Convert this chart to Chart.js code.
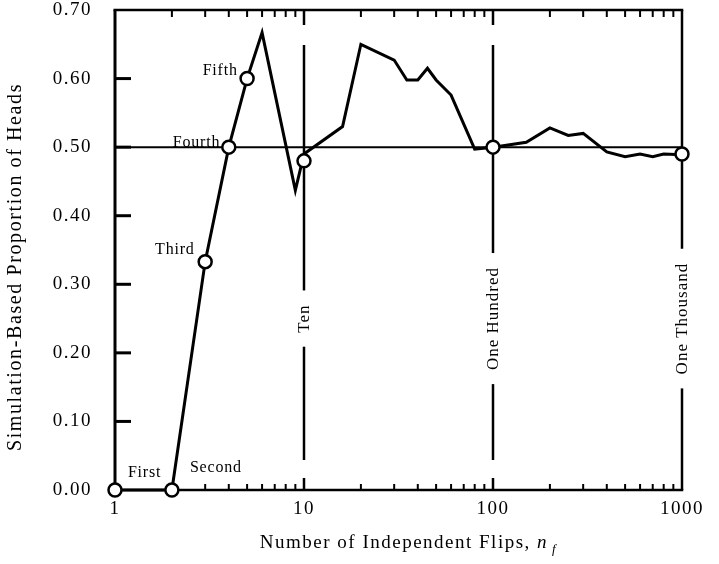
<!DOCTYPE html>
<html><head><meta charset="utf-8">
<script src="https://cdn.jsdelivr.net/npm/chart.js@4"></script>
<style>html,body{margin:0;padding:0;background:#fff}#wrap{width:719px;height:564px}</style>
</head><body><div id="wrap"><canvas id="c" width="719" height="564"></canvas></div>
<script>
// ---- data ----
const flips = [1,2,3,4,5,6,9,10,16,20,30,35,40,45,50,60,80,100,150,200,250,300,400,500,600,700,800,1000];
const proportion = [0,0,0.333,0.5,0.6,0.667,0.437,0.49,0.53,0.65,0.627,0.598,0.598,0.615,0.598,0.576,0.497,0.5,0.507,0.528,0.517,0.52,0.493,0.486,0.49,0.486,0.49,0.489];
const markedFlips = [1,2,3,4,5,10,100,1000];
const markedProportion = [0,0,0.333,0.5,0.6,0.48,0.5,0.49];
const fairValue = 0.5;
const xTickValues = [1,10,100,1000];
const xTickLabels = ['1','10','100','1000'];
const yTickValues = [0,0.1,0.2,0.3,0.4,0.5,0.6,0.7];
const yTickLabels = ['0.00','0.10','0.20','0.30','0.40','0.50','0.60','0.70'];
const flipNames = ['First','Second','Third','Fourth','Fifth'];
const flipNameX = [1.17,2.49,1.63,2.02,2.91];
const flipNameY = [0.025,0.032,0.35,0.507,0.612];
const decadeLines = [10,100,1000];
const decadeNames = ['Ten','One Hundred','One Thousand'];
const decadeNameY = 0.25;
const xTitle = 'Number of Independent Flips, ';
const xTitleVar = 'n';
const xTitleSub = 'f';
const yTitle = 'Simulation-Based Proportion of Heads';

const SERIF = '"Liberation Serif", "Times New Roman", serif';

function seg(ctx, x1, y1, x2, y2, w) {
  ctx.lineWidth = w;
  ctx.beginPath(); ctx.moveTo(x1, y1); ctx.lineTo(x2, y2); ctx.stroke();
}

const framePlugin = {
  id: 'frame',
  beforeDraw(chart) {
    chart.ctx.letterSpacing = '1.5px';
  },
  beforeDatasetsDraw(chart) {
    const {ctx, chartArea: a, scales: {x, y}} = chart;
    ctx.save();
    ctx.strokeStyle = '#000';
    ctx.fillStyle = '#000';
    ctx.lineCap = 'butt';
    // frame
    seg(ctx, a.left - 1.5, a.top, a.right + 1.25, a.top, 2.5);
    seg(ctx, a.left, a.top, a.left, a.bottom + 1.25, 3);
    seg(ctx, a.left, a.bottom, a.right + 1.25, a.bottom, 2.5);
    // log ticks top and bottom
    [1, 10, 100].forEach(d => {
      for (let k = 2; k <= 9; k++) {
        const px = x.getPixelForValue(d * k);
        seg(ctx, px, a.top, px, a.top + 7, 2);
        seg(ctx, px, a.bottom, px, a.bottom - 6, 2);
      }
    });
    [10, 100].forEach(v => {
      const px = x.getPixelForValue(v);
      seg(ctx, px, a.top, px, a.top + 15, 2.5);
      seg(ctx, px, a.bottom, px, a.bottom - 12, 2.5);
    });
    // y ticks
    yTickValues.forEach(v => {
      if (v <= y.min || v >= y.max) return;
      const py = y.getPixelForValue(v);
      seg(ctx, a.left, py, a.left + 16, py, 3);
    });
    // decade vertical lines with labels
    ctx.font = '17px ' + SERIF;
    ctx.letterSpacing = '1px';
    decadeLines.forEach((v, i) => {
      const px = x.getPixelForValue(v);
      const cy = y.getPixelForValue(decadeNameY);
      const w = ctx.measureText(decadeNames[i]).width;
      const g0 = cy - w / 2 - 14, g1 = cy + w / 2 + 14;
      const edge = v >= x.max;
      const t = edge ? a.top : a.top + 35;
      const b = edge ? a.bottom : a.bottom - 30;
      seg(ctx, px, t, px, g0, 2.5);
      seg(ctx, px, g1, px, b, 2.5);
      ctx.save();
      ctx.translate(px + 1, cy);
      ctx.rotate(-Math.PI / 2);
      ctx.textAlign = 'center';
      ctx.textBaseline = 'middle';
      ctx.fillText(decadeNames[i], 0, 0);
      ctx.restore();
    });
    ctx.restore();
  },
  afterDraw(chart) {
    const {ctx, chartArea: a, scales: {x, y}} = chart;
    ctx.save();
    ctx.fillStyle = '#000';
    // flip labels
    ctx.font = '16px ' + SERIF;
    ctx.letterSpacing = '0.8px';
    ctx.textAlign = 'left';
    ctx.textBaseline = 'middle';
    flipNames.forEach((n, i) => {
      ctx.fillText(n, x.getPixelForValue(flipNameX[i]), y.getPixelForValue(flipNameY[i]));
    });
    // x title
    ctx.letterSpacing = '1.5px';
    ctx.textBaseline = 'alphabetic';
    ctx.font = '19px ' + SERIF;
    const w1 = ctx.measureText(xTitle).width;
    ctx.font = 'italic 19px ' + SERIF;
    const w2 = ctx.measureText(xTitleVar).width;
    ctx.font = 'italic 13px ' + SERIF;
    const w3 = ctx.measureText(xTitleSub).width;
    const total = w1 + w2 + 4 + w3;
    let sx = (a.left + a.right) / 2 + 10 - total / 2;
    const by = 548;
    ctx.font = '19px ' + SERIF;
    ctx.fillText(xTitle, sx, by);
    ctx.font = 'italic 19px ' + SERIF;
    ctx.fillText(xTitleVar, sx + w1, by);
    ctx.font = 'italic 13px ' + SERIF;
    ctx.fillText(xTitleSub, sx + w1 + w2 + 4, by + 5);
    // y title
    ctx.font = '20px ' + SERIF;
    ctx.letterSpacing = '1.6px';
    ctx.textAlign = 'center';
    ctx.textBaseline = 'middle';
    ctx.translate(16, (a.top + a.bottom) / 2 + 17);
    ctx.rotate(-Math.PI / 2);
    ctx.fillText(yTitle, 0, 0);
    ctx.restore();
  }
};

const ctx = document.getElementById('c').getContext('2d');
new Chart(ctx, {
  type: 'line',
  data: {
    datasets: [
      {
        label: 'marked',
        data: markedFlips.map((v, i) => ({x: v, y: markedProportion[i]})),
        showLine: false,
        pointRadius: 6.5,
        pointBorderWidth: 2.5,
        pointBackgroundColor: '#fff',
        pointBorderColor: '#000',
        clip: false
      },
      {
        label: 'proportion',
        data: flips.map((v, i) => ({x: v, y: proportion[i]})),
        borderColor: '#000',
        borderWidth: 3,
        borderJoinStyle: 'miter',
        pointRadius: 0,
        tension: 0,
        clip: false
      },
      {
        label: 'fair',
        data: [{x: xTickValues[0], y: fairValue}, {x: xTickValues[xTickValues.length - 1], y: fairValue}],
        borderColor: '#000',
        borderWidth: 2,
        pointRadius: 0,
        clip: false
      }
    ]
  },
  options: {
    responsive: false,
    devicePixelRatio: 1,
    animation: false,
    layout: {padding: {left: 0, right: 37, top: 10, bottom: 0}},
    plugins: {legend: {display: false}, tooltip: {enabled: false}},
    scales: {
      x: {
        type: 'logarithmic',
        min: 1, max: 1000,
        grid: {display: false, drawTicks: false},
        border: {display: false},
        afterBuildTicks: s => { s.ticks = xTickValues.map(v => ({value: v})); },
        afterFit: s => { s.height = 74; s.paddingLeft = 0; s.paddingRight = 0; },
        ticks: {
          autoSkip: false, maxRotation: 0, padding: 7.5, color: '#000',
          font: {family: SERIF, size: 19},
          callback: (v, i) => xTickLabels[i]
        }
      },
      y: {
        type: 'linear',
        min: 0, max: 0.7,
        grid: {display: false, drawTicks: false},
        border: {display: false},
        afterBuildTicks: s => { s.ticks = yTickValues.map(v => ({value: v})); },
        afterFit: s => { s.width = 115; s.paddingTop = 0; s.paddingBottom = 0; },
        ticks: {
          padding: 23, color: '#000',
          font: {family: SERIF, size: 19},
          callback: (v, i) => yTickLabels[i]
        }
      }
    }
  },
  plugins: [framePlugin]
});
</script>
</body></html>
